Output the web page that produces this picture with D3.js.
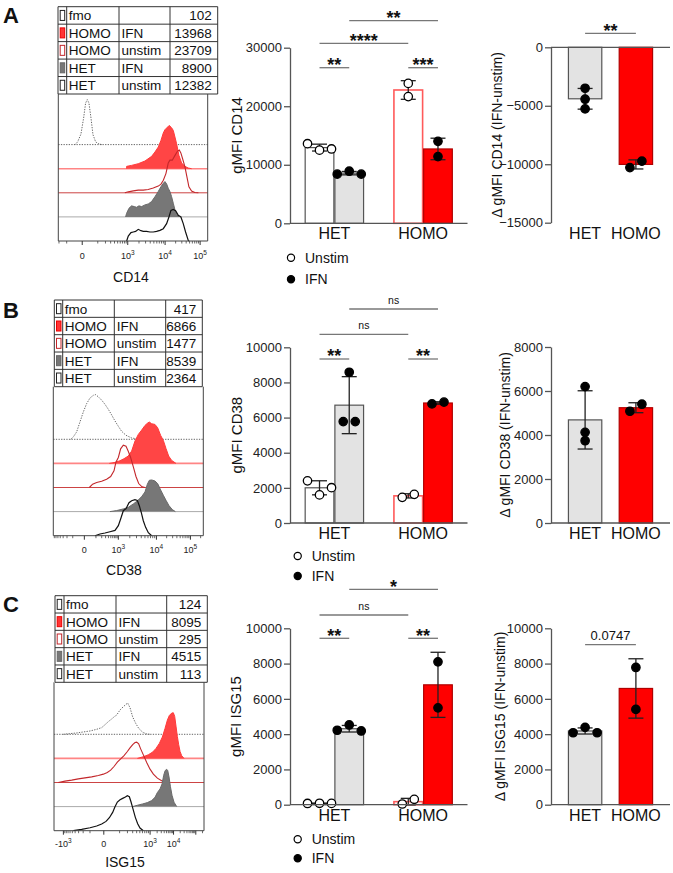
<!DOCTYPE html>
<html>
<head>
<meta charset="utf-8">
<script src="https://cdn.jsdelivr.net/npm/d3@7"></script>
<style>
  body { margin: 0; background: #fff; }
  svg { display: block; }
</style>
</head>
<body>
<div id="fig"></div>
<script>
// ---------------- DATA ----------------

// gMFI tables next to the histograms
var sampleNames = ["fmo", "HOMO", "HOMO", "HET", "HET"];
var sampleConds = ["", "IFN", "unstim", "IFN", "unstim"];
var mfiCD14 = [102, 13968, 23709, 8900, 12382];
var mfiCD38 = [417, 6866, 1477, 8539, 2364];
var mfiISG15 = [124, 8095, 295, 4515, 113];

// histogram traces : [display channel (0-256), % of mode]
var cd14Fmo = [[28.6,0],[33.1,5.6],[38.8,22],[43.4,55.5],[46.8,86.7],[49.7,93.7],[52.5,86.7],[56,55.5],[59.4,20.8],[64,5.6],[68.5,2.1],[74.2,0]];
var cd14HomoIfn = [[117.1,0],[117.1,4.9],[125.6,6.9],[137,10.4],[148.5,16],[159.9,25.7],[165.6,34.7],[171.3,45.1],[175.9,59],[179.9,74.3],[182.7,81.2],[187.3,86.8],[190.1,90.2],[194.1,85.4],[197,79.8],[199.9,65.9],[202.7,52],[206.7,27.8],[211.3,11.8],[217,4.9],[222.7,1.4],[228.4,0]];
var cd14HomoUn = [[114,0],[120,2],[128.5,4],[137,5.5],[145.6,5.5],[154,7],[162.7,10],[171.3,14],[176,18],[180,26],[184.4,40],[188.4,62],[191.3,68],[195.3,68],[200,78],[204.4,87],[207.3,89],[210,83],[213,71],[217,54],[220.4,33],[223.8,12.5],[228.4,3.5],[234,0.7],[240,0]];
var cd14HetIfn = [[115.3,0],[117.1,7.6],[121.1,18],[125.6,23],[130.2,21.5],[134.2,20],[138.2,23],[142.8,21.5],[148.5,25],[154.2,27],[159.9,32],[165.6,42],[171.3,53],[175.9,63],[179.9,70],[182.7,73.6],[185.6,68.7],[188.4,59.7],[191.3,52.7],[194.1,42.3],[197,28.5],[199.9,14.6],[203.3,4.2],[206.7,0]];
var cd14HetUn = [[117.1,0],[119.9,10.4],[124.5,17.4],[128.5,18.7],[132.5,20.1],[137,24.3],[141.6,21.5],[145.6,20.1],[151.3,20.1],[157,18.7],[162.7,18.7],[168.4,20.1],[174.2,22.2],[179.9,25.7],[185.6,36.1],[189.6,50],[193,63.8],[197,65.9],[201,63.1],[205.6,53.4],[210.1,50],[214.1,36.1],[218.1,18.7],[222.7,1.4],[224,0]];

var cd38Fmo = [[29.6,0],[34.1,4.9],[39.8,15.3],[45.5,36.1],[51.2,56.9],[56.9,74.3],[62.6,86],[68.3,91.6],[72.3,93],[76.8,88.5],[82.5,81.6],[88.2,72.9],[93.9,62.5],[99.6,50.7],[105.3,38.2],[111,27.1],[116.6,16.7],[124.1,8.3],[133.7,2.8],[143.4,0.7],[150.8,0]];
var cd38HomoIfn = [[95.6,0],[105.3,2.1],[113.8,5.6],[120.6,9.7],[127.9,15.3],[133.7,25.7],[139.4,46.5],[145.1,60.4],[150.8,69.4],[156.5,79.1],[161,84],[163.9,86.1],[167.9,82.6],[173.5,81.2],[178.1,74.3],[183.2,58.3],[187.8,47.9],[192.3,31.2],[196.9,15.3],[202,6.2],[209.4,0]];
var cd38HomoUn = [[61.5,0],[67.1,7],[74,10.4],[82.5,13.2],[91,17.4],[97.9,22.9],[103.6,34.7],[106.9,52.7],[111,62.5],[114.9,80.5],[119.5,88.2],[124.1,86.1],[128.1,75],[132,62.5],[136.6,43],[141.1,22.9],[145.7,8.3],[151.4,1.4],[156.5,0]];
var cd38HetIfn = [[96.7,0],[108.1,2.1],[119.5,5.6],[128.1,9],[136.6,16],[143.4,22.2],[150.8,31.2],[156.5,40.9],[160.5,56.9],[163.9,65.2],[167.9,65.9],[173.5,63.8],[178.1,58.3],[183.2,45.1],[187.8,34],[192.3,23.6],[197.4,12.5],[203.1,4.2],[208.3,0]];
var cd38HetUn = [[71.1,0],[79.7,3.5],[88.2,5.6],[96.7,8.3],[105.3,11.1],[111,20.8],[115.5,36.8],[119.5,52],[124.1,56.2],[129.2,68.7],[133.7,72.9],[139.4,75],[143.4,73.6],[146.8,62.5],[150.2,47.9],[153.6,31.2],[157.6,17.4],[162.2,6.2],[167.9,0]];

var isgFmo = [[15.9,0],[27.3,1.4],[38.7,2.8],[50.1,4.9],[61.5,6.9],[72.8,10.4],[81.4,13.9],[87.1,20.1],[92.7,26.4],[98.4,31.9],[103,36.8],[107,40.2],[112.7,50.7],[118.4,57.6],[122.3,61.8],[125.7,65.2],[129.7,55.5],[134.3,36.1],[139.4,22.9],[144.5,12.5],[151.4,4.2],[158.2,0.7],[163.9,0]];
var isgHomoIfn = [[142.3,0],[152.5,3.5],[161,7.6],[168.4,13.2],[174.1,20.8],[179.8,31.2],[184.9,44.4],[189.5,62.5],[193.5,79.8],[196.9,89.5],[200.9,94.4],[203.7,95.1],[206,87.5],[208.2,67.3],[210.5,45.8],[212.8,28.5],[215.1,14.6],[217.9,5.6],[221.9,0]];
var isgHomoUn = [[7.4,0],[18.8,2.8],[30.2,4.9],[41.5,7.6],[52.9,9.7],[64.3,11.8],[75.7,14.6],[84.2,17.4],[91,20.8],[96.7,25.7],[102.4,33.3],[108.1,42.3],[113.8,49.3],[119.5,56.2],[125.2,64.6],[129.7,72.2],[134.3,79.1],[138.3,83.3],[141.1,84],[144.5,80.5],[147.9,70.1],[152.5,57.6],[158.2,41.6],[163.9,27.8],[169.6,17.4],[176.4,9],[183.8,3.5],[191.2,0]];
var isgHetIfn = [[134.3,0],[142.3,2.8],[151.4,5.6],[159.3,8.3],[166.7,12.5],[172.4,19.4],[176.4,29.2],[181,36.8],[184.4,47.2],[187.2,65.2],[189.5,74.3],[191.8,77.7],[194,75.7],[196.3,61.8],[198.6,42.3],[201.4,23.6],[204.9,9],[209.4,0]];
var isgHetUn = [[33,0],[47.2,2.8],[61.5,6.2],[72.8,9.7],[81.4,13.9],[88.8,19.4],[94.5,27.1],[100.1,38.2],[104.1,50],[108.1,59.7],[112.7,64.6],[117.2,67.3],[121.8,70.1],[125.2,72.9],[128.6,70.8],[131.5,59.7],[134.9,45.1],[138.8,27.8],[142.8,14.6],[146.8,5.6],[152.5,0]];

// histogram axis ticks (value, display channel, label)
var cd14TickVals = [0, 1e3, 1e4, 1e5];
var cd14TickCh   = [41, 119, 183, 243];
var cd14TickLab  = ["0", "10^3", "10^4", "10^5"];
var cd38TickVals = [0, 1e3, 1e4, 1e5];
var cd38TickCh   = [53, 111, 176, 234];
var cd38TickLab  = ["0", "10^3", "10^4", "10^5"];
var isgTickVals  = [-1e3, 0, 1e3, 1e4, 1e5];
var isgTickCh    = [16, 85, 164, 204, 242];
var isgTickLab   = ["-10^3", "0", "10^3", "10^4", ""];

// bar charts : replicate gMFI per genotype [HET, HOMO]
var groups = ["HET", "HOMO"];
var conds = ["Unstim", "IFN"];
var cd14Unstim = [[13600, 12500, 12700], [23900, 21650]];
var cd14Ifn    = [[8400, 8900, 8400], [14000, 11400]];
var cd14Delta  = [[-3500, -4440, -5270], [-10290, -9740]];
var cd38Unstim = [[2400, 1600, 2010], [1460, 1630]];
var cd38Ifn    = [[8580, 5770, 5770], [6780, 6880]];
var cd38Delta  = [[6200, 4120, 3740], [5080, 5400]];
var isgUnstim  = [[70, 80, 75], [40, 305]];
var isgIfn     = [[4220, 4520, 4180], [8100, 5490]];
var isgDelta   = [[4080, 4380, 4080], [7780, 5400]];

// significance [label, bar a, bar b] (bars: HET-Unstim, HET-IFN, HOMO-Unstim, HOMO-IFN)
var cd14Sig = [["**", 0, 1], ["***", 2, 3], ["****", 0, 2], ["**", 1, 3]];
var cd38Sig = [["**", 0, 1], ["**", 2, 3], ["ns", 0, 2], ["ns", 1, 3]];
var isgSig  = [["**", 0, 1], ["**", 2, 3], ["ns", 0, 2], ["*", 1, 3]];
var cd14DeltaSig = [["**", 0, 1]];
var cd38DeltaSig = [];
var isgDeltaSig  = [["0.0747", 0, 1]];

// ---------------- DRAWING ----------------
var W = 673, H = 873;
var FONT = '"Liberation Sans", Arial, Helvetica, sans-serif';
var red = "#ff0000";

var svg = d3.select("#fig").append("svg")
  .attr("width", W).attr("height", H)
  .style("font-family", FONT)
  .style("background", "#fff");

// styles of the 5 histogram rows (fmo, HOMO IFN, HOMO unstim, HET IFN, HET unstim)
var rowStyle = [
  { stroke: "#555", fill: null, base: "#666", dash: "1.3,1.3", sw: 0.9, sFill: "#fff", sStroke: "#222" },
  { stroke: "#ff3a3a", fill: "#ff4545", base: "#ff8585", dash: null, sw: 1, sFill: "#ff3535", sStroke: "#e00" },
  { stroke: "#c3272b", fill: null, base: "#cc4444", dash: null, sw: 1.1, sFill: "#fff", sStroke: "#c3272b" },
  { stroke: "#6a6a6a", fill: "#777", base: "#aaa", dash: null, sw: 1, sFill: "#777", sStroke: "#666" },
  { stroke: "#111", fill: null, base: "#333", dash: null, sw: 1.2, sFill: "#fff", sStroke: "#222" }
];

function panelLetter(txt, x, y) {
  svg.append("text").attr("x", x).attr("y", y)
    .style("font-size", "22px").style("font-weight", "bold").style("fill", "#111")
    .text(txt);
}

//-------------------- TABLE --------------------
function drawTable(cols, top, bottom, values) {
  var g = svg.append("g");
  var rowH = (bottom - top) / 5;
  for (var i = 0; i <= 5; i++) {
    g.append("line").attr("x1", cols[0]).attr("x2", cols[4])
      .attr("y1", top + i * rowH).attr("y2", top + i * rowH)
      .style("stroke", "#333").style("stroke-width", 1);
  }
  cols.forEach(function (c) {
    g.append("line").attr("x1", c).attr("x2", c).attr("y1", top).attr("y2", bottom)
      .style("stroke", "#333").style("stroke-width", 1);
  });
  for (var r = 0; r < 5; r++) {
    var yc = top + r * rowH + rowH / 2;
    g.append("rect").attr("x", cols[0] + 2.2).attr("y", yc - 5)
      .attr("width", 4.5).attr("height", 10)
      .style("fill", rowStyle[r].sFill).style("stroke", rowStyle[r].sStroke).style("stroke-width", 1);
    var ty = yc + 5;
    g.append("text").attr("x", cols[1] + 2).attr("y", ty).text(sampleNames[r])
      .style("font-size", "13.5px").style("fill", "#111");
    g.append("text").attr("x", cols[2] + 2.5).attr("y", ty).text(sampleConds[r])
      .style("font-size", "13.5px").style("fill", "#111");
    g.append("text").attr("x", cols[4] - 6).attr("y", ty).text(values[r])
      .attr("text-anchor", "end").style("font-size", "13.5px").style("fill", "#111");
  }
}

//-------------------- HISTOGRAMS --------------------
function tickText(sel, lab) {
  var parts = lab.split("^");
  sel.append("tspan").text(parts[0]);
  if (parts.length > 1) {
    sel.append("tspan").attr("dy", -4).style("font-size", "6.5px").text(parts[1]);
  }
}

function drawHist(box, traces, tickVals, tickCh, tickLab, title) {
  var g = svg.append("g");
  var x = d3.scaleLinear().domain([0, 256]).range([box.l, box.r]);
  var h = d3.scaleLinear().domain([0, 100]).range([0, 48]);
  var gap = 24.1;

  traces.forEach(function (tr, i) {
    var st = rowStyle[i];
    var base = box.b - (4 - i) * gap;
    if (i < 4) {
      g.append("line").attr("x1", box.l).attr("x2", box.r).attr("y1", base).attr("y2", base)
        .style("stroke", st.base).style("stroke-width", i == 1 ? 1.6 : 1)
        .style("stroke-dasharray", st.dash);
    }
    if (st.fill) {
      var area = d3.area().x(function (d) { return x(d[0]); })
        .y0(base).y1(function (d) { return base - h(d[1]); });
      g.append("path").attr("d", area(tr)).style("fill", st.fill).style("stroke", "none");
    }
    var line = d3.line().x(function (d) { return x(d[0]); })
      .y(function (d) { return base - h(d[1]); });
    g.append("path").attr("d", line(tr)).style("fill", "none")
      .style("stroke", st.stroke).style("stroke-width", st.sw)
      .style("stroke-dasharray", st.dash);
  });

  // frame
  g.append("path")
    .attr("d", "M" + box.l + "," + box.t + "V" + box.b + "H" + box.r + "V" + box.t)
    .style("fill", "none").style("stroke", "#444").style("stroke-width", 1);

  // minor ticks: biexponential-like near zero, logarithmic above 10^3
  var i0 = tickVals.indexOf(0), i3 = tickVals.indexOf(1e3);
  var ch0 = tickCh[i0], ch3 = tickCh[i3];
  var chm = tickVals.indexOf(-1e3) >= 0 ? tickCh[tickVals.indexOf(-1e3)] : 2 * ch0 - ch3;
  var lin = d3.scaleSymlog().constant(60).domain([-1e3, 0, 1e3]).range([chm, ch0, ch3]);
  var decV = [], decC = [];
  tickVals.forEach(function (v, k) { if (v >= 1e3) { decV.push(v); decC.push(tickCh[k]); } });
  var lg = d3.scaleLog().domain(decV).range(decC);
  var minor = [];
  for (var k = 1; k <= 9; k++) { minor.push(lin(k * 100)); minor.push(lin(-k * 100)); }
  [1e3, 1e4, 1e5].forEach(function (d) {
    for (var k = 2; k <= 9; k++) minor.push(lg(k * d));
  });
  minor.filter(function (c) { return c > 1 && c < 255; }).forEach(function (c) {
    g.append("line").attr("x1", x(c)).attr("x2", x(c)).attr("y1", box.b).attr("y2", box.b + 2.5)
      .style("stroke", "#444").style("stroke-width", 0.8);
  });
  tickCh.forEach(function (c, k) {
    g.append("line").attr("x1", x(c)).attr("x2", x(c)).attr("y1", box.b).attr("y2", box.b + 4)
      .style("stroke", "#333").style("stroke-width", 1);
    if (tickLab[k]) {
      var t = g.append("text").attr("x", x(c)).attr("y", box.labY)
        .attr("text-anchor", "middle").style("font-size", "9px").style("fill", "#222");
      tickText(t, tickLab[k]);
    }
  });

  g.append("text").attr("x", box.titleX).attr("y", box.titleY).attr("text-anchor", "middle")
    .style("font-size", "14px").style("fill", "#111").text(title);
}

//-------------------- BAR CHARTS --------------------
function styleAxis(ax) {
  ax.selectAll("path, line").style("stroke", "#555").style("stroke-width", 1.3);
  ax.selectAll("text").style("font-size", "13px").style("fill", "#222").style("font-family", FONT);
}

// place replicate points side by side when they overlap
function swarm(vals, y, thr, d) {
  var idx = d3.range(vals.length).sort(function (a, b) { return vals[a] - vals[b]; });
  var clusters = [], cur = [idx[0]];
  for (var i = 1; i < idx.length; i++) {
    if (Math.abs(y(vals[idx[i]]) - y(vals[idx[i - 1]])) < thr) cur.push(idx[i]);
    else { clusters.push(cur); cur = [idx[i]]; }
  }
  clusters.push(cur);
  var off = vals.map(function () { return 0; });
  clusters.forEach(function (cl) {
    cl.sort(function (a, b) { return a - b; });
    cl.forEach(function (p, j) { off[p] = (j - (cl.length - 1) / 2) * d; });
  });
  return off;
}

function errAndPoints(g, cx, vals, y, open) {
  var m = d3.mean(vals), sd = d3.deviation(vals);
  g.append("line").attr("x1", cx).attr("x2", cx).attr("y1", y(m - sd)).attr("y2", y(m + sd))
    .style("stroke", "#222").style("stroke-width", 1.3);
  [m - sd, m + sd].forEach(function (v) {
    g.append("line").attr("x1", cx - 7.5).attr("x2", cx + 7.5).attr("y1", y(v)).attr("y2", y(v))
      .style("stroke", "#222").style("stroke-width", 1.3);
  });
  var off = swarm(vals, y, 8, 12);
  vals.forEach(function (v, k) {
    g.append("circle").attr("cx", cx + off[k]).attr("cy", y(v)).attr("r", 4.2)
      .style("fill", open ? "#fff" : "#000").style("stroke", "#000").style("stroke-width", 1.3);
  });
}

function drawSig(g, sig, xs, ys) {
  sig.forEach(function (s, k) {
    var x1 = xs[s[1]], x2 = xs[s[2]], yy = ys[k];
    g.append("line").attr("x1", x1).attr("x2", x2).attr("y1", yy).attr("y2", yy)
      .style("stroke", "#777").style("stroke-width", 1.3);
    var t = g.append("text").attr("x", (x1 + x2) / 2).attr("text-anchor", "middle")
      .style("fill", "#111").text(s[0]);
    if (s[0].indexOf("*") >= 0) {
      t.attr("y", yy + 3.4).style("font-size", "18px").style("font-weight", "bold");
    } else if (s[0] == "ns") {
      t.attr("y", yy - 5).style("font-size", "10.5px");
    } else {
      t.attr("y", yy - 5).style("font-size", "13px");
    }
  });
}

var barFill = [["#fff", "#e3e3e3"], ["#fff", red]];
var barStroke = [["#555", "#555"], ["#ff5a5a", "#b00000"]];

function drawBars(L, unstim, ifn, sig, ylab) {
  var g = svg.append("g");
  var y = d3.scaleLinear().domain([0, L.yMax]).range([L.y0, L.yTop]);
  var xg = d3.scaleBand().domain(groups).range([L.x0, L.x1]);
  var xs = d3.scaleBand().domain(conds).range([-29.2, 29.2]).paddingInner(0.035);
  var series = [unstim, ifn];
  var centers = [];

  groups.forEach(function (grp, gi) {
    conds.forEach(function (c, ci) {
      var cx = xg(grp) + xg.bandwidth() / 2 + xs(c) + xs.bandwidth() / 2;
      centers.push(cx);
      var m = d3.mean(series[ci][gi]);
      g.append("rect").attr("x", cx - xs.bandwidth() / 2).attr("y", y(m))
        .attr("width", xs.bandwidth()).attr("height", y(0) - y(m))
        .style("fill", barFill[gi][ci]).style("stroke", barStroke[gi][ci])
        .style("stroke-width", gi == 1 && ci == 0 ? 1.6 : 1.2);
    });
  });
  groups.forEach(function (grp, gi) {
    conds.forEach(function (c, ci) {
      errAndPoints(g, centers[gi * 2 + ci], series[ci][gi], y, ci == 0);
    });
  });

  var ax = g.append("g").attr("transform", "translate(" + L.x0 + ",0)")
    .call(d3.axisLeft(y).tickValues(L.ticks).tickSize(6).tickSizeOuter(0).tickPadding(2)
      .tickFormat(d3.format("d")));
  styleAxis(ax);
  g.append("line").attr("x1", L.x0).attr("x2", L.x1).attr("y1", y(0)).attr("y2", y(0))
    .style("stroke", "#555").style("stroke-width", 1.3);

  groups.forEach(function (grp) {
    g.append("text").attr("x", xg(grp) + xg.bandwidth() / 2).attr("y", L.catY)
      .attr("text-anchor", "middle").style("font-size", "16px").style("fill", "#111").text(grp);
  });

  g.append("text")
    .attr("transform", "translate(" + L.ylabX + "," + (L.y0 + L.yTop) / 2 + ") rotate(-90)")
    .attr("text-anchor", "middle").attr("dy", "0.35em")
    .style("font-size", "15px").style("fill", "#111").text(ylab);

  // legend
  conds.forEach(function (c, ci) {
    var ly = L.legY[ci];
    g.append("circle").attr("cx", L.legX).attr("cy", ly).attr("r", 3.6)
      .style("fill", ci == 0 ? "#fff" : "#000").style("stroke", "#000").style("stroke-width", 1.2);
    g.append("text").attr("x", L.legX + 14).attr("y", ly + 5)
      .style("font-size", "14px").style("fill", "#111").text(c);
  });

  drawSig(g, sig, centers, L.sigY);
}

function drawDelta(L, delta, sig, ylab) {
  var g = svg.append("g");
  var y = d3.scaleLinear().domain([L.yMin, L.yMax]).range([L.yBot, L.yTop]);
  var xb = d3.scaleBand().domain(groups).range([L.x0, L.x1]).paddingInner(0.343).paddingOuter(0.343);
  var centers = [];
  groups.forEach(function (grp, gi) {
    var cx = xb(grp) + xb.bandwidth() / 2;
    centers.push(cx);
    var m = d3.mean(delta[gi]);
    g.append("rect").attr("x", xb(grp)).attr("y", Math.min(y(0), y(m)))
      .attr("width", xb.bandwidth()).attr("height", Math.abs(y(0) - y(m)))
      .style("fill", barFill[gi][1]).style("stroke", barStroke[gi][1]).style("stroke-width", 1.2);
  });
  groups.forEach(function (grp, gi) {
    errAndPoints(g, centers[gi], delta[gi], y, false);
  });

  var ax = g.append("g").attr("transform", "translate(" + L.x0 + ",0)")
    .call(d3.axisLeft(y).tickValues(L.ticks).tickSize(6).tickSizeOuter(0).tickPadding(2)
      .tickFormat(d3.format("d")));
  styleAxis(ax);
  g.append("line").attr("x1", L.x0).attr("x2", L.x1).attr("y1", y(0)).attr("y2", y(0))
    .style("stroke", "#555").style("stroke-width", 1.3);

  groups.forEach(function (grp, gi) {
    g.append("text").attr("x", centers[gi]).attr("y", L.catY)
      .attr("text-anchor", "middle").style("font-size", "16px").style("fill", "#111").text(grp);
  });
  g.append("text")
    .attr("transform", "translate(" + L.ylabX + "," + (L.yBot + L.yTop) / 2 + ") rotate(-90)")
    .attr("text-anchor", "middle").attr("dy", "0.35em")
    .style("font-size", "14px").style("fill", "#111").text(ylab);

  drawSig(g, sig, centers, L.sigY);
}

//-------------------- PANELS --------------------
panelLetter("A", 3, 23);
panelLetter("B", 3, 318);
panelLetter("C", 3, 612);

drawTable([58, 66.7, 119, 170, 217.7], 6.7, 94, mfiCD14);
drawTable([54.3, 62.7, 114.3, 165.7, 202.3], 300, 386.7, mfiCD38);
drawTable([55, 64, 116, 166.7, 207.3], 595.7, 682.3, mfiISG15);

drawHist({ l: 58.3, r: 207.7, t: 94, b: 241, labY: 259, titleX: 131, titleY: 282 },
  [cd14Fmo, cd14HomoIfn, cd14HomoUn, cd14HetIfn, cd14HetUn],
  cd14TickVals, cd14TickCh, cd14TickLab, "CD14");
drawHist({ l: 53.3, r: 203.3, t: 386.7, b: 535.7, labY: 553, titleX: 124, titleY: 575 },
  [cd38Fmo, cd38HomoIfn, cd38HomoUn, cd38HetIfn, cd38HetUn],
  cd38TickVals, cd38TickCh, cd38TickLab, "CD38");
drawHist({ l: 54, r: 204, t: 682.3, b: 830.7, labY: 847, titleX: 125, titleY: 867 },
  [isgFmo, isgHomoIfn, isgHomoUn, isgHetIfn, isgHetUn],
  isgTickVals, isgTickCh, isgTickLab, "ISG15");

drawBars({ x0: 290, x1: 467.5, y0: 223.3, yTop: 47.7, yMax: 30000, ticks: [0, 10000, 20000, 30000],
  catY: 238.8, ylabX: 237, legX: 291, legY: [257.7, 279.3], sigY: [67.7, 67.7, 43.3, 20.7] },
  cd14Unstim, cd14Ifn, cd14Sig, "gMFI CD14");
drawBars({ x0: 290, x1: 467.5, y0: 523, yTop: 347.3, yMax: 10000, ticks: [0, 2000, 4000, 6000, 8000, 10000],
  catY: 538.8, ylabX: 237, legX: 297.7, legY: [556, 576], sigY: [359, 359, 334.3, 309] },
  cd38Unstim, cd38Ifn, cd38Sig, "gMFI CD38");
drawBars({ x0: 290, x1: 467.5, y0: 804.7, yTop: 628.3, yMax: 10000, ticks: [0, 2000, 4000, 6000, 8000, 10000],
  catY: 820.8, ylabX: 236, legX: 297.7, legY: [839.3, 858.3], sigY: [638.3, 638.3, 615, 589.3] },
  isgUnstim, isgIfn, isgSig, "gMFI ISG15");

drawDelta({ x0: 551, x1: 670, yBot: 222.7, yTop: 47.3, yMin: -15000, yMax: 0,
  ticks: [0, -5000, -10000, -15000], catY: 238.8, ylabX: 497, sigY: [33.3] },
  cd14Delta, cd14DeltaSig, "\u0394 gMFI CD14 (IFN-unstim)");
drawDelta({ x0: 551, x1: 670, yBot: 523, yTop: 347, yMin: 0, yMax: 8000,
  ticks: [0, 2000, 4000, 6000, 8000], catY: 538.8, ylabX: 505, sigY: [] },
  cd38Delta, cd38DeltaSig, "\u0394 gMFI CD38 (IFN-unstim)");
drawDelta({ x0: 551, x1: 670, yBot: 804.7, yTop: 628.3, yMin: 0, yMax: 10000,
  ticks: [0, 2000, 4000, 6000, 8000, 10000], catY: 820.8, ylabX: 500, sigY: [644.7] },
  isgDelta, isgDeltaSig, "\u0394 gMFI ISG15 (IFN-unstim)");
</script>
</body>
</html>
